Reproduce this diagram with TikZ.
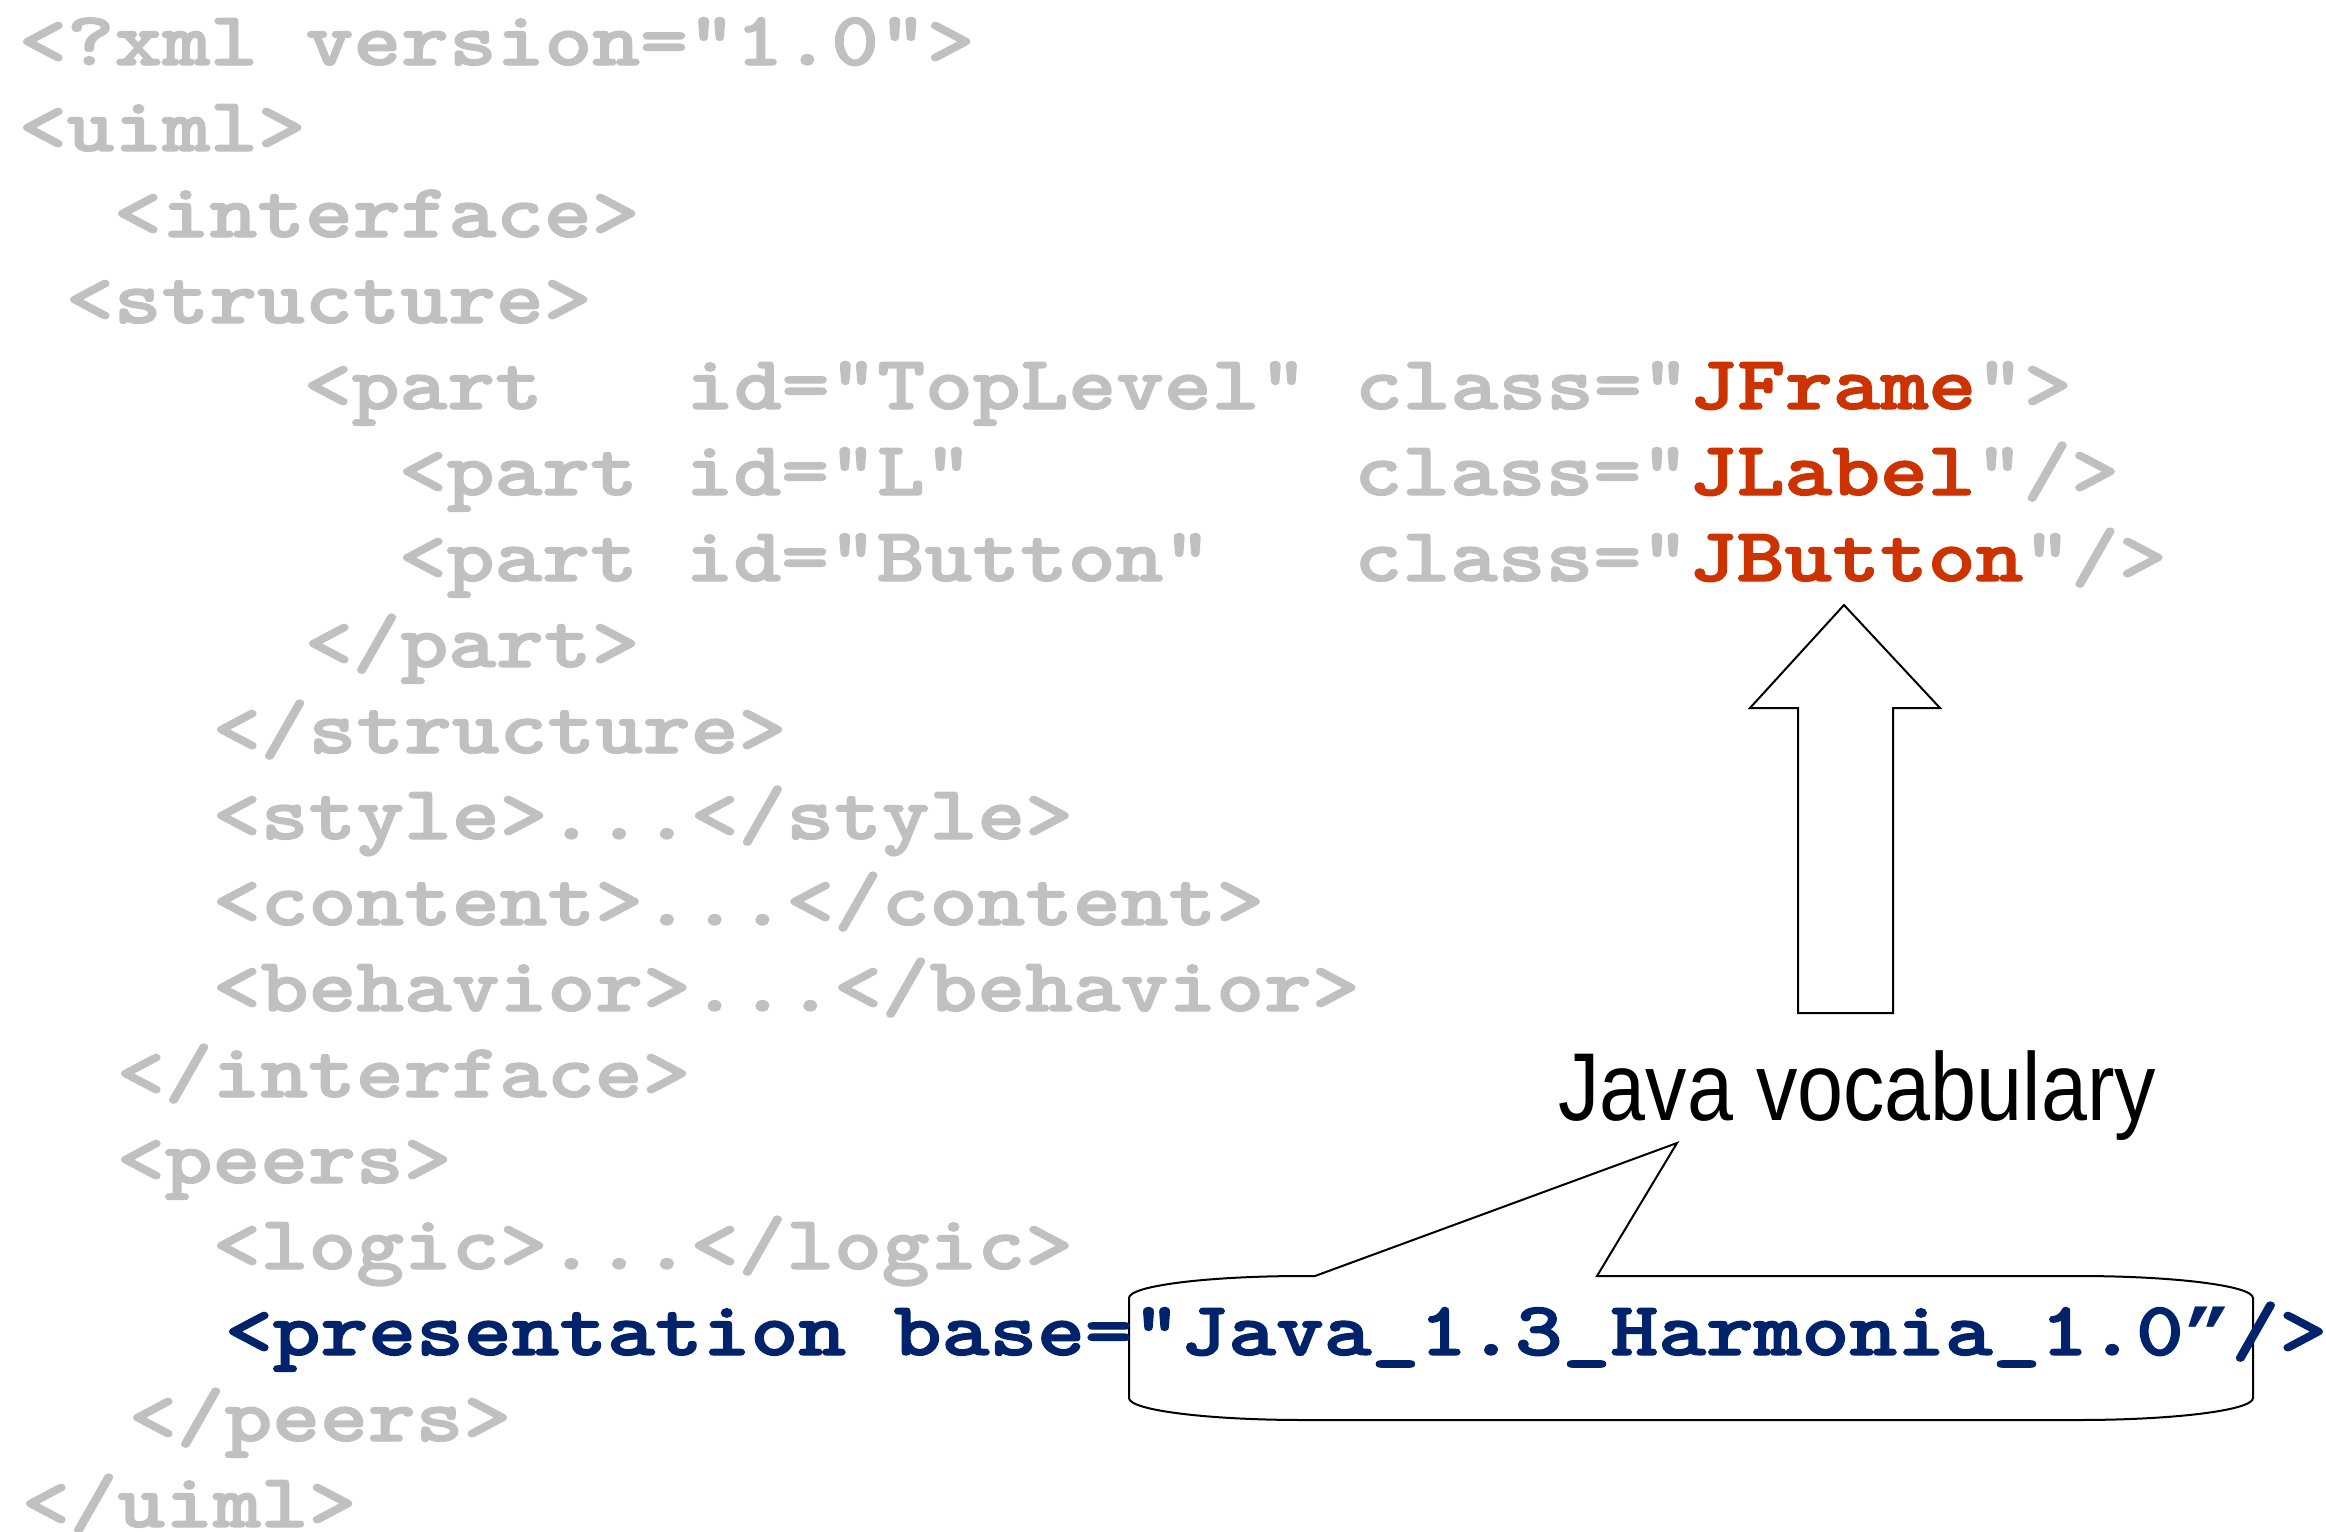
\documentclass[tikz,border=0pt]{standalone}
\usepackage{fontspec}
\usepackage{graphicx}
\newfontfamily\labelfamily{Liberation Sans}
\newfontfamily\codefamily{lmmonolt10-bold.otf}[FakeBold=1.6]
\newfontfamily\quotefamily{Liberation Mono Bold}

\definecolor{codegray}{HTML}{C0C0C0}
\definecolor{codered}{HTML}{CC3300}
\definecolor{codeblue}{HTML}{00236B}

% heavy typewriter text, widened to a Courier-like pitch
\newcommand\codefont{\fontsize{38.3}{40}\selectfont\codefamily}
\newcommand\wide[1]{\scalebox{1.188}[1]{#1}}
\newcommand\cls[1]{\textcolor{codered}{#1}}
\newcommand\closingquote{{\fontsize{33.5}{40}\selectfont\quotefamily ”}}

\tikzset{
  codeline/.style={anchor=base west, inner sep=0pt, outer sep=0pt,
                   font=\codefont, text=codegray},
  bluecode/.style={codeline, text=codeblue},
  outline/.style={draw=black, line width=1pt, line join=miter, fill=none},
}

\begin{document}
\begin{tikzpicture}[x=0.5pt, y=-0.5pt]
  \clip (0,0) rectangle (2326,1532);
  \useasboundingbox (0,0) rectangle (2326,1532);

  % speech-bubble callout around the presentation base value
  \draw[outline]
    (1315,1276) -- (1677,1143) -- (1597,1276) -- (2078,1276)
    .. controls (2174.7,1276) and (2253,1285.8) .. (2253,1298)
    -- (2253,1398)
    .. controls (2253,1410.2) and (2174.7,1420) .. (2078,1420)
    -- (1304,1420)
    .. controls (1207.3,1420) and (1129,1410.2) .. (1129,1398)
    -- (1129,1298)
    .. controls (1129,1285.8) and (1207.3,1276) .. (1304,1276)
    -- cycle;

  % block arrow pointing up at the Java class names
  \draw[outline, fill=white]
    (1844,605) -- (1940,708) -- (1893,708) -- (1893,1013)
    -- (1798,1013) -- (1798,708) -- (1750,708) -- cycle;

  % UIML listing, one node per line
  \node[codeline] (l1)  at (19,65)   {\wide{<?xml~version="1.0">}};
  \node[codeline] (l2)  at (19,151)  {\wide{<uiml>}};
  \node[codeline] (l3)  at (114,237) {\wide{<interface>}};
  \node[codeline] (l4)  at (66,323)  {\wide{<structure>}};
  \node[codeline] (l5)  at (304,409) {\wide{<part~~~id="TopLevel"~class="\cls{JFrame}">}};
  \node[codeline] (l6)  at (399,495) {\wide{<part~id="L"~~~~~~~~class="\cls{JLabel}"/>}};
  \node[codeline] (l7)  at (399,581) {\wide{<part~id="Button"~~~class="\cls{JButton}"/>}};
  \node[codeline] (l8)  at (305,667) {\wide{</part>}};
  \node[codeline] (l9)  at (213,753) {\wide{</structure>}};
  \node[codeline] (l10) at (213,839) {\wide{<style>...</style>}};
  \node[codeline] (l11) at (213,925) {\wide{<content>...</content>}};
  \node[codeline] (l12) at (213,1011) {\wide{<behavior>...</behavior>}};
  \node[codeline] (l13) at (117,1097) {\wide{</interface>}};
  \node[codeline] (l14) at (117,1183) {\wide{<peers>}};
  \node[codeline] (l15) at (213,1269) {\wide{<logic>...</logic>}};
  \node[bluecode] (l16) at (225,1355) {\wide{<presentation~base="Java\_1.3\_Harmonia\_1.0\closingquote/>}};
  \node[codeline] (l17) at (129,1441) {\wide{</peers>}};
  \node[codeline] (l18) at (22,1527) {\wide{</uiml>}};

  % caption of the callout
  \node[anchor=base west, inner sep=0pt, text=black,
        font=\labelfamily\fontsize{48.2}{50}\selectfont]
        (vocab) at (1558,1120) {\scalebox{0.858}[1]{Java vocabulary}};
\end{tikzpicture}
\end{document}
